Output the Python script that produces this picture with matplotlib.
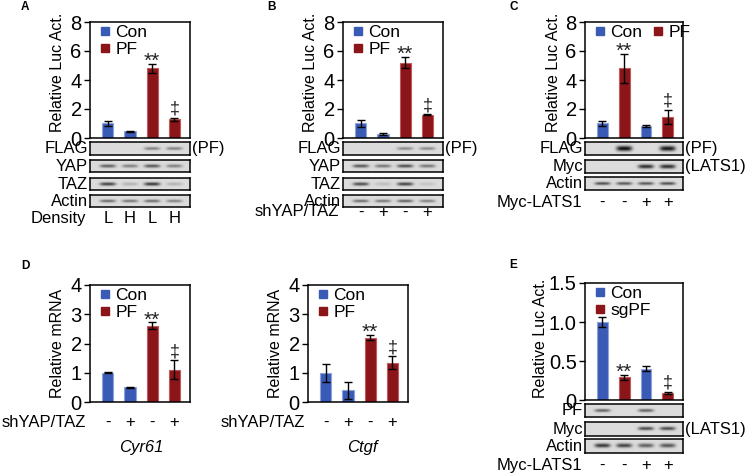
import numpy as np
import matplotlib.pyplot as plt
from matplotlib.lines import Line2D
from matplotlib.transforms import blended_transform_factory

plt.rcParams['font.family'] = ['Liberation Sans', 'DejaVu Sans']

W, H = 747, 473
BLUE = "#3a5bb5"
BLUE_EDGE = "#8ea3da"
RED = "#8b1518"
RED_EDGE = "#c05a5c"

# ---- data ----
a_vals = [1.0, 0.45, 4.8, 1.3]
a_errs = [0.15, 0.06, 0.3, 0.1]
b_vals = [1.0, 0.3, 5.2, 1.6]
b_errs = [0.25, 0.07, 0.4, 0.03]
c_vals = [1.0, 4.8, 0.85, 1.45]
c_errs = [0.15, 1.0, 0.07, 0.5]
cyr_vals = [1.0, 0.5, 2.6, 1.1]
cyr_errs = [0.02, 0.02, 0.12, 0.33]
ctgf_vals = [1.0, 0.4, 2.2, 1.35]
ctgf_errs = [0.3, 0.3, 0.08, 0.22]
e_vals = [1.0, 0.29, 0.40, 0.09]
e_errs = [0.07, 0.03, 0.03, 0.015]

a_lanes = ["L", "H", "L", "H"]
sh_lanes = ["-", "+", "-", "+"]
lats_lanes = ["-", "-", "+", "+"]

# blot band intensities per lane
a_blots = {"FLAG": [0, 0, 0.45, 0.45], "YAP": [0.6, 0.45, 0.65, 0.45],
           "TAZ": [0.75, 0.2, 0.8, 0.2], "Actin": [0.55, 0.5, 0.55, 0.45]}
b_blots = {"FLAG": [0, 0, 0.4, 0.4], "YAP": [0.65, 0.5, 0.7, 0.5],
           "TAZ": [0.7, 0.15, 0.75, 0.12], "Actin": [0.55, 0.5, 0.6, 0.45]}
c_blots = {"FLAG": [0, 1.0, 0, 0.95], "Myc": [0, 0, 0.85, 0.85],
           "Actin": [0.7, 0.65, 0.65, 0.7]}
e_blots = {"PF": [0.6, 0, 0.6, 0], "Myc": [0, 0, 0.7, 0.7],
           "Actin": [0.8, 0.75, 0.6, 0.65]}

FS = 12

fig = plt.figure(figsize=(W / 100, H / 100), dpi=100)


def rect(x0, y0, x1, y1):
    return [x0 / W, 1 - y1 / H, (x1 - x0) / W, (y1 - y0) / H]


def bar_panel(r, vals, errs, colors, ylim, ticks, ticklabels, ylabel, labels,
              ncol=1, label_y=0.5):
    ax = fig.add_axes(rect(*r))
    x = np.arange(len(vals))
    edges = [BLUE_EDGE if c == BLUE else RED_EDGE for c in colors]
    ax.bar(x, vals, width=0.5, color=colors, edgecolor=edges, linewidth=0.8)
    ax.errorbar(x, vals, yerr=errs, fmt="none", ecolor="black", elinewidth=1,
                capsize=3, capthick=1)
    ax.set_xlim(-0.8, 3.7)
    ax.set_ylim(*ylim)
    ax.set_xticks([])
    ax.set_yticks(ticks)
    ax.set_yticklabels(ticklabels, fontsize=14.5)
    ax.tick_params(axis="y", length=4, width=1, pad=2)
    ax.set_ylabel(ylabel, fontsize=11.5, labelpad=0)
    ax.yaxis.set_label_coords(-0.25, label_y)
    for s in ax.spines.values():
        s.set_linewidth(1.1)
    handles = [Line2D([], [], marker="s", ls="", color=BLUE, markersize=5.5),
               Line2D([], [], marker="s", ls="", color=RED, markersize=5.5)]
    ax.legend(handles, labels, loc="upper left", frameon=False, fontsize=12.5,
              handlelength=0.6, handletextpad=0.3, labelspacing=0.1,
              borderaxespad=0.0, borderpad=0.15, ncol=ncol, columnspacing=0.6,
              bbox_to_anchor=(0.07, 1.0))
    return ax


def mark(ax, i, vals, errs, text, size=12, dy=1):
    ax.annotate(text, (i, vals[i] + errs[i]), xytext=(0, dy), textcoords="offset points",
                ha="center", va="bottom", fontsize=size, color="#222222")


def blot(r, inten, label, sig=0.14, right=None):
    ax = fig.add_axes(rect(*r))
    xs = np.linspace(-0.8, 3.7, 300)
    ys = np.linspace(0, 1, 40)
    img = np.full((40, 300), 0.86)
    for i, v in enumerate(inten):
        lane = np.exp(-((xs - i) / 0.36) ** 4)
        prof = np.exp(-((ys - 0.5) / sig) ** 2)
        img -= 0.8 * v * np.outer(prof, lane)
    ax.imshow(img, cmap="gray", vmin=0, vmax=1, extent=(-0.8, 3.7, 0, 1),
              aspect="auto", interpolation="bilinear")
    ax.set_xticks([])
    ax.set_yticks([])
    for s in ax.spines.values():
        s.set_linewidth(1.1)
    ax.text(-0.02, 0.5, label, transform=ax.transAxes, ha="right", va="center",
            fontsize=FS)
    if right:
        ax.text(1.02, 0.5, right, transform=ax.transAxes, ha="left", va="center",
                fontsize=FS)
    return ax


def lane_row(ax, lanes, name, ypx, name_x):
    tr = blended_transform_factory(ax.transData, fig.transFigure)
    for i, s in enumerate(lanes):
        ax.text(i, 1 - ypx / H, s, transform=tr, ha="center", va="center", fontsize=FS)
    fig.text(name_x / W, 1 - ypx / H, name, ha="right", va="center", fontsize=FS)


def panel_letter(x, y, s):
    fig.text(x / W, 1 - y / H, s, fontsize=8.5, fontweight="bold", ha="left", va="center")


def marks(ax, vals, errs, star_i):
    mark(ax, star_i, vals, errs, "**", 15, -5)
    mark(ax, 3, vals, errs, "\u2021", 13, 0)


ticks8 = [0, 2, 4, 6, 8]
lab8 = ["0", "2", "4", "6", "8"]
two = [BLUE, BLUE, RED, RED]
alt = [BLUE, RED, BLUE, RED]

# ---- A ----
panel_letter(21, 7, "A")
axA = bar_panel((90, 22, 190, 138), a_vals, a_errs, two, (0, 8), ticks8, lab8,
                "Relative Luc Act.", ["Con", "PF"], label_y=0.57)
marks(axA, a_vals, a_errs, 2)
blot((90, 142, 190, 155), a_blots["FLAG"], "FLAG", 0.12, "(PF)")
blot((90, 160, 190, 172), a_blots["YAP"], "YAP")
blot((90, 178, 190, 190), a_blots["TAZ"], "TAZ")
bA = blot((90, 195, 190, 207), a_blots["Actin"], "Actin", 0.12)
lane_row(bA, a_lanes, "Density", 218, 86)

# ---- B ----
panel_letter(267, 7, "B")
axB = bar_panel((343, 22, 443, 138), b_vals, b_errs, two, (0, 8), ticks8, lab8,
                "Relative Luc Act.", ["Con", "PF"], label_y=0.57)
marks(axB, b_vals, b_errs, 2)
blot((343, 142, 443, 155), b_blots["FLAG"], "FLAG", 0.12, "(PF)")
blot((343, 160, 443, 172), b_blots["YAP"], "YAP")
blot((343, 178, 443, 190), b_blots["TAZ"], "TAZ")
bB = blot((343, 195, 443, 207), b_blots["Actin"], "Actin", 0.12)
lane_row(bB, sh_lanes, "shYAP/TAZ", 212, 339)

# ---- C ----
panel_letter(509, 7, "C")
axC = bar_panel((585, 22, 683, 138), c_vals, c_errs, alt, (0, 8), ticks8, lab8,
                "Relative Luc Act.", ["Con", "PF"], ncol=2, label_y=0.57)
marks(axC, c_vals, c_errs, 1)
blot((585, 142, 683, 155), c_blots["FLAG"], "FLAG", 0.2, "(PF)")
blot((585, 160, 683, 173), c_blots["Myc"], "Myc", 0.16, "(LATS1)")
bC = blot((585, 177, 683, 190), c_blots["Actin"], "Actin", 0.12)
lane_row(bC, lats_lanes, "Myc-LATS1", 202, 582)

# ---- D ----
panel_letter(21, 266, "D")
ticks4 = [0, 1, 2, 3, 4]
lab4 = ["0", "1", "2", "3", "4"]
axD1 = bar_panel((90, 285, 190, 402), cyr_vals, cyr_errs, two, (0, 4), ticks4, lab4,
                 "Relative mRNA", ["Con", "PF"])
marks(axD1, cyr_vals, cyr_errs, 2)
lane_row(axD1, sh_lanes, "shYAP/TAZ", 422, 86)
fig.text(141 / W, 1 - 447 / H, "Cyr61", style="italic", fontsize=FS, ha="center", va="center")

axD2 = bar_panel((308, 285, 408, 402), ctgf_vals, ctgf_errs, two, (0, 4), ticks4, lab4,
                 "Relative mRNA", ["Con", "PF"])
marks(axD2, ctgf_vals, ctgf_errs, 2)
lane_row(axD2, sh_lanes, "shYAP/TAZ", 422, 305)
fig.text(362 / W, 1 - 447 / H, "Ctgf", style="italic", fontsize=FS, ha="center", va="center")

# ---- E ----
panel_letter(509, 265, "E")
axE = bar_panel((585, 283, 683, 400), e_vals, e_errs, alt, (0, 1.5), [0, 0.5, 1.0, 1.5],
                ["0", "0.5", "1.0", "1.5"], "Relative Luc Act.", ["Con", "sgPF"])
axE.yaxis.set_label_coords(-0.38, 0.53)
marks(axE, e_vals, e_errs, 1)
blot((585, 404, 683, 417), e_blots["PF"], "PF", 0.12)
blot((585, 422, 683, 436), e_blots["Myc"], "Myc", 0.12, "(LATS1)")
bE = blot((585, 439, 683, 453), e_blots["Actin"], "Actin", 0.14)
lane_row(bE, lats_lanes, "Myc-LATS1", 465, 582)

fig.savefig("out.png", dpi=100)
